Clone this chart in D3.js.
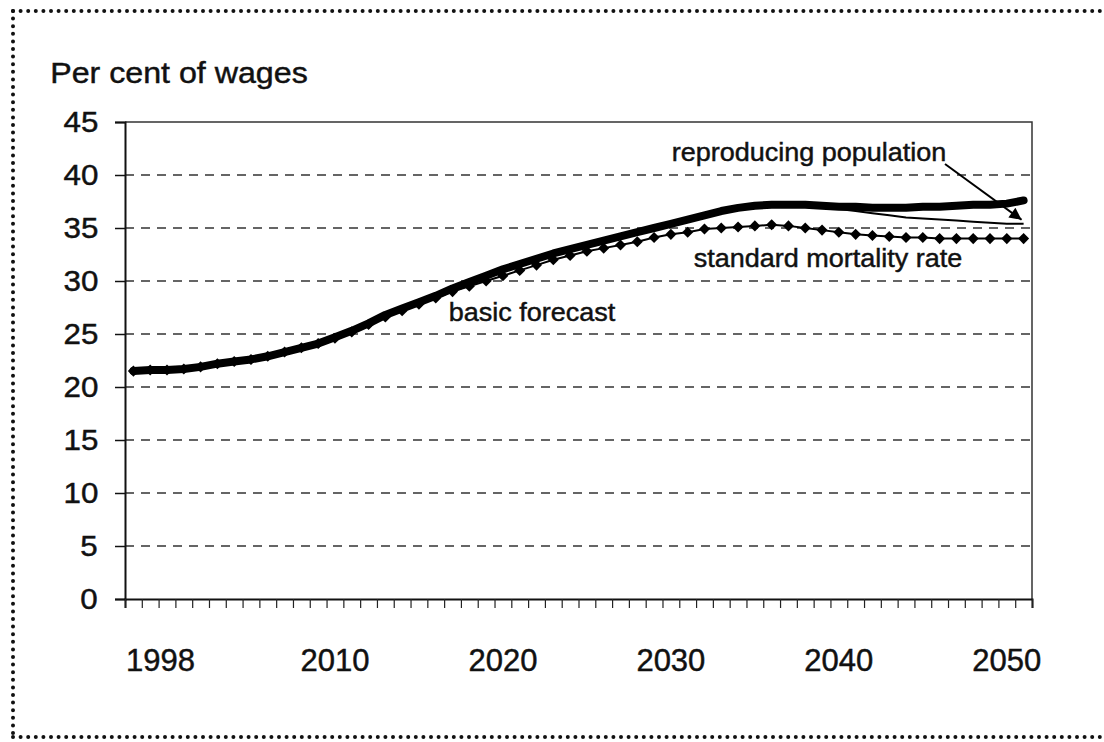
<!DOCTYPE html>
<html lang="en">
	<head>
		<meta charset="utf-8">
		<title>Per cent of wages</title>
		<script src="https://d3js.org/d3.v7.min.js"></script>
		<style>
			body { margin: 0; background: #fff; }
			svg text { font-family: "Liberation Sans", Arial, Helvetica, sans-serif; fill: #111; stroke: #111; stroke-width: 0.45px; }
			/* the scanned chart is a bit wider than normal Arial */
			.stretch { transform-box: fill-box; transform-origin: center; transform: scaleX(1.08); }
		</style>
	</head>
	<body>
		<div id="chart"></div>
		<script type="text/javascript">
		var w = 1104, h = 742
		var plot = {left: 125, right: 1032, top: 122, bottom: 599}

		// data
		var years = d3.range(1998, 2052)
		var basicForecast = [21.5, 21.6, 21.6, 21.7, 21.9, 22.2, 22.4, 22.6, 22.9, 23.3,
			23.7, 24.1, 24.7, 25.3, 26.0, 26.8, 27.4, 28.0, 28.6, 29.3,
			29.9, 30.5, 31.1, 31.6, 32.1, 32.6, 33.0, 33.4, 33.8, 34.2,
			34.6, 35.0, 35.4, 35.8, 36.2, 36.6, 36.9, 37.1, 37.2, 37.2,
			37.2, 37.1, 37.0, 37.0, 36.9, 36.9, 36.9, 37.0, 37.0, 37.1,
			37.2, 37.2, 37.3, 37.6]
		var reproducingPopulation = [21.5, 21.6, 21.6, 21.7, 21.9, 22.2, 22.4, 22.6, 22.9, 23.3,
			23.7, 24.1, 24.7, 25.3, 26.0, 26.8, 27.4, 28.0, 28.7, 29.4,
			30.0, 30.6, 31.2, 31.7, 32.1, 32.6, 33.0, 33.4, 33.8, 34.2,
			34.6, 35.0, 35.4, 35.8, 36.2, 36.6, 36.9, 37.1, 37.2, 37.2,
			37.2, 37.0, 36.8, 36.6, 36.4, 36.2, 36.0, 35.9, 35.8, 35.7,
			35.6, 35.5, 35.4, 35.4]
		var standardMortality = [21.5, 21.6, 21.6, 21.7, 21.9, 22.2, 22.4, 22.6, 22.9, 23.3,
			23.7, 24.1, 24.6, 25.2, 25.9, 26.6, 27.2, 27.8, 28.4, 29.0,
			29.5, 30.0, 30.5, 31.0, 31.5, 32.0, 32.4, 32.8, 33.1, 33.4,
			33.7, 34.1, 34.4, 34.6, 34.9, 35.0, 35.1, 35.2, 35.3, 35.2,
			35.0, 34.8, 34.6, 34.4, 34.3, 34.2, 34.1, 34.1, 34.0, 34.0,
			34.0, 34.0, 34.0, 34.0]
		var yTicks = [0, 5, 10, 15, 20, 25, 30, 35, 40, 45]
		var xLabels = [1998, 2010, 2020, 2030, 2040, 2050]

		var svg = d3.select('#chart').append('svg').attr('width', w).attr('height', h)

		// outer dotted frame
		var frame = svg.append('g').attr('fill', 'none').attr('stroke', '#111')
			.attr('stroke-width', 4).attr('stroke-linecap', 'round').attr('stroke-dasharray', '0,7.6')
		frame.append('path').attr('d', 'M13,11H1104')
		frame.append('path').attr('d', 'M13,11V737')
		frame.append('path').attr('d', 'M13,737H1104')

		var x = d3.scaleLinear().domain([1997.5, 2051.5]).range([plot.left, plot.right])
		var y = d3.scaleLinear().domain([0, 45]).range([plot.bottom, plot.top])

		// dashed gridlines
		svg.append('g').selectAll('line').data(yTicks.filter(d => d > 0 && d < 45)).enter()
			.append('line')
			.attr('x1', plot.left).attr('x2', plot.right)
			.attr('y1', d => y(d)).attr('y2', d => y(d))
			.attr('stroke', '#333').attr('stroke-width', 1.3).attr('stroke-dasharray', '9,7')

		// plot border (top/right)
		svg.append('path')
			.attr('d', 'M' + plot.left + ',' + plot.top + 'H' + plot.right + 'V' + plot.bottom)
			.attr('fill', 'none').attr('stroke', '#333').attr('stroke-width', 1.5)

		// y axis
		var yAxis = d3.axisLeft(y).tickValues(yTicks).tickSize(10).tickPadding(18)
		var gy = svg.append('g').attr('transform', 'translate(' + plot.left + ',0)').call(yAxis)
		gy.select('.domain').attr('stroke', '#111').attr('stroke-width', 2)
		gy.selectAll('.tick line').attr('stroke', '#111').attr('stroke-width', 1.5)
		gy.selectAll('.tick text').attr('font-size', 29).attr('class', 'stretch')
			.style('font-family', '"Liberation Sans", Arial, sans-serif').attr('fill', '#111')

		// x axis - tick marks between categories, labels drawn below
		var xAxis = d3.axisBottom(x).tickValues(d3.range(1997.5, 2052, 1)).tickSize(9).tickFormat('')
		var gx = svg.append('g').attr('transform', 'translate(0,' + plot.bottom + ')').call(xAxis)
		gx.select('.domain').attr('stroke', '#111').attr('stroke-width', 2)
		gx.selectAll('.tick line').attr('stroke', '#222').attr('stroke-width', 1.2)

		svg.append('g').selectAll('text').data(xLabels).enter()
			.append('text')
			.attr('x', (d, i) => x(d) + (i === 0 ? 27 : 0))
			.attr('y', 671)
			.attr('text-anchor', 'middle').attr('font-size', 31)
			.text(d => d)

		// axis title
		svg.append('text').attr('class', 'stretch')
			.attr('x', 179).attr('y', 83).attr('text-anchor', 'middle').attr('font-size', 29.8)
			.text('Per cent of wages')

		var line = d3.line().x((d, i) => x(years[i])).y(d => y(d))

		svg.append('path').datum(basicForecast).attr('d', line)
			.attr('fill', 'none').attr('stroke', '#000').attr('stroke-width', 8)
			.attr('stroke-linejoin', 'round').attr('stroke-linecap', 'round')
		svg.append('path').datum(reproducingPopulation).attr('d', line)
			.attr('fill', 'none').attr('stroke', '#000').attr('stroke-width', 2)
		svg.append('path').datum(standardMortality).attr('d', line)
			.attr('fill', 'none').attr('stroke', '#000').attr('stroke-width', 2)
		svg.append('g').selectAll('path').data(standardMortality).enter()
			.append('path')
			.attr('transform', (d, i) => 'translate(' + x(years[i]) + ',' + y(d) + ')')
			.attr('d', d3.symbol().type(d3.symbolDiamond2).size(78))
			.attr('fill', '#000')

		// annotations
		var notes = svg.append('g').attr('font-size', 25).attr('text-anchor', 'middle')
		notes.append('text').attr('class', 'stretch').attr('x', 809).attr('y', 161).text('reproducing population')
		notes.append('text').attr('class', 'stretch').attr('x', 828).attr('y', 267).text('standard mortality rate')
		notes.append('text').attr('class', 'stretch').attr('x', 532).attr('y', 321).text('basic forecast')

		// arrow to the reproducing population line
		svg.append('defs').append('marker').attr('id', 'arrow')
			.attr('viewBox', '0 0 10 10').attr('refX', 10).attr('refY', 5)
			.attr('markerWidth', 15).attr('markerHeight', 12).attr('markerUnits', 'userSpaceOnUse')
			.attr('orient', 'auto')
			.append('path').attr('d', 'M0,0L10,5L0,10z').attr('fill', '#000')
		var tipYear = 2051
		svg.append('line')
			.attr('x1', 945).attr('y1', 164)
			.attr('x2', x(tipYear) - 2).attr('y2', y(reproducingPopulation[years.indexOf(tipYear)]) - 4)
			.attr('stroke', '#000').attr('stroke-width', 2).attr('marker-end', 'url(#arrow)')
		</script>
	</body>
</html>
